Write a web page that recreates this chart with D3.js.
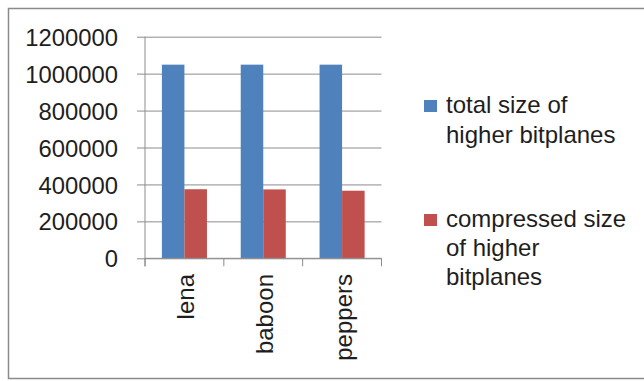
<!DOCTYPE html>
<html>
<head>
<meta charset="utf-8">
<script src="https://cdn.jsdelivr.net/npm/d3@7"></script>
<style>
  html, body { margin: 0; padding: 0; background: #fff; }
  svg { display: block; }
  text { font-family: "Liberation Sans", Arial, sans-serif; fill: #1e1e1e; }
</style>
</head>
<body>
<svg id="chart" width="644" height="381"></svg>
<script>
// Image names on the category axis
const images = ["lena", "baboon", "peppers"];
// Series: total vs compressed size of the higher bitplanes
const seriesNames = ["total size of higher bitplanes", "compressed size of higher bitplanes"];
const totalSize = [1048576, 1048576, 1048576];
const compressedSize = [374000, 373000, 366000];
const yTicks = [0, 200000, 400000, 600000, 800000, 1000000, 1200000];
const legendLines = [["total size of", "higher bitplanes"], ["compressed size", "of higher", "bitplanes"]];
const colors = ["#4F81BD", "#C0504D"];

const svg = d3.select("#chart");
const W = 644, H = 381;

// outer chart frame
svg.append("rect")
  .attr("x", 8.5).attr("y", 8.5)
  .attr("width", W).attr("height", 370)
  .attr("fill", "none").attr("stroke", "#8a8a8a").attr("stroke-width", 1.5);

const plot = { left: 145, right: 381.5, top: 36.7, bottom: 258.3 };

const x = d3.scaleBand().domain(images).range([plot.left, plot.right]).paddingInner(0).paddingOuter(0);
const xs = d3.scaleBand().domain([0, 1]).range([0, x.bandwidth()]).paddingInner(0).paddingOuter(0.75);
const y = d3.scaleLinear().domain([0, 1200000]).range([plot.bottom, plot.top]);

const grid = "#8c8c8c";

// horizontal gridlines plus left tick marks
const yAxis = svg.append("g")
  .attr("transform", `translate(${plot.left},0)`)
  .call(d3.axisLeft(y).tickValues(yTicks).tickSize(8).tickFormat(d3.format("d")).tickPadding(19));
yAxis.select(".domain").remove();
yAxis.selectAll(".tick line").attr("stroke", grid).attr("x2", plot.right - plot.left).attr("x1", -8);
yAxis.selectAll(".tick text").attr("font-size", 23.8).attr("dy", "0.36em")
  .style("font-family", '"Liberation Sans", Arial, sans-serif').attr("fill", "#1e1e1e");

// vertical axis line
svg.append("line")
  .attr("x1", plot.left).attr("x2", plot.left)
  .attr("y1", plot.top).attr("y2", plot.bottom + 8)
  .attr("stroke", grid);

// bars
const groups = svg.append("g").selectAll("g")
  .data(images).join("g")
  .attr("transform", d => `translate(${x(d)},0)`);

groups.selectAll("rect")
  .data((d, i) => [totalSize[i], compressedSize[i]].map((v, s) => ({ v, s })))
  .join("rect")
  .attr("x", d => xs(d.s))
  .attr("width", xs.bandwidth())
  .attr("y", d => y(d.v))
  .attr("height", d => y(0) - y(d.v))
  .attr("fill", d => colors[d.s]);

// category axis with boundary ticks
svg.append("line")
  .attr("x1", plot.left).attr("x2", plot.right)
  .attr("y1", plot.bottom).attr("y2", plot.bottom)
  .attr("stroke", grid);
const bounds = images.map(d => x(d)).concat([plot.right]);
svg.append("g").selectAll("line").data(bounds).join("line")
  .attr("x1", d => d).attr("x2", d => d)
  .attr("y1", plot.bottom).attr("y2", plot.bottom + 8)
  .attr("stroke", grid);

svg.append("g").selectAll("text").data(images).join("text")
  .attr("transform", d => `translate(${x(d) + x.bandwidth() / 2 + 1},274) rotate(-90)`)
  .attr("text-anchor", "end")
  .attr("dy", "0.36em")
  .attr("font-size", 24)
  .text(d => d);

// legend
const legendTop = [113, 227];
const lineGap = [30, 29];
legendLines.forEach((lines, s) => {
  svg.append("rect")
    .attr("x", 424).attr("y", legendTop[s] - 13)
    .attr("width", 13).attr("height", 12)
    .attr("fill", colors[s]);
  const t = svg.append("text").attr("font-size", 24).attr("x", 446).attr("y", legendTop[s]);
  lines.forEach((ln, k) => {
    t.append("tspan").attr("x", 446).attr("y", legendTop[s] + k * lineGap[s]).text(ln);
  });
});
</script>
</body>
</html>
